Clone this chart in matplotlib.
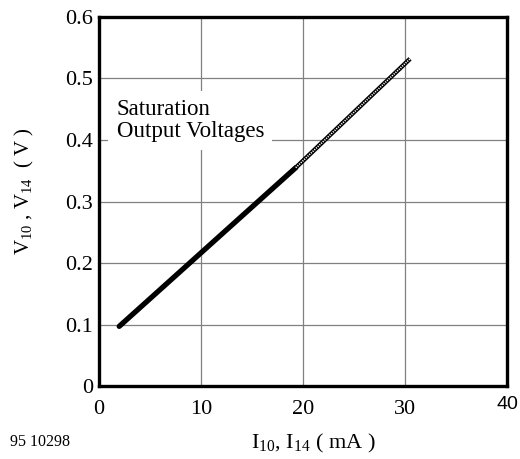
"""Saturation output voltages vs output current."""
import matplotlib.pyplot as plt
import matplotlib.transforms as mtransforms

plt.rcParams['font.family'] = ['Liberation Serif', 'DejaVu Serif']
plt.rcParams['mathtext.fontset'] = 'custom'
plt.rcParams['mathtext.rm'] = 'Liberation Serif'

# solid (measured) part and dotted (extrapolated) part
i_solid = [2.0, 19.3]
v_solid = [0.097, 0.355]
i_dotted = [19.3, 30.5]
v_dotted = [0.355, 0.532]

x_ticks = [0, 10, 20, 30, 40]
y_ticks = [0, 0.1, 0.2, 0.3, 0.4, 0.5, 0.6]
y_tick_labels = ['0', '0.1', '0.2', '0.3', '0.4', '0.5', '0.6']

fig = plt.figure(figsize=(5.2, 4.59), dpi=100)
ax = fig.add_axes([0.190, 0.159, 0.785, 0.804])

ax.plot(i_solid, v_solid, color='black', lw=3.8, solid_capstyle='round', zorder=3)
ax.plot(i_dotted, v_dotted, color='black', lw=3.2, solid_capstyle='butt', zorder=3)
ax.plot(i_dotted, v_dotted, color='white', lw=1.2, linestyle=(0, (0.7, 0.7)), zorder=4)

ax.set_xlim(0, 40)
ax.set_ylim(0, 0.6)
ax.set_xticks(x_ticks)
ax.set_yticks(y_ticks)
ax.set_yticklabels(y_tick_labels)
ax.tick_params(length=0, labelsize=16, pad=4)
ax.tick_params(axis='x', pad=10)
ax.grid(color='#808080', lw=0.9)
ax.set_axisbelow(True)
for s in ax.spines.values():
    s.set_linewidth(2.4)

# the "40" label sits a little higher in the original, in a sans face
lab40 = ax.get_xticklabels()[-1]
lab40.set_family('Liberation Sans')
lab40.set_fontsize(14)
lab40.set_transform(lab40.get_transform() +
                    mtransforms.ScaledTranslation(0, 0.04, fig.dpi_scale_trans))

ax.text(1.75, 0.432, 'Saturation\nOutput Voltages', fontsize=16.5, linespacing=1.05,
        va='center', ha='left',
        bbox=dict(facecolor='white', edgecolor='none', pad=6), zorder=2)

ax.set_xlabel(r'I$_{10}$, I$_{14}$ ( mA )', fontsize=16)
ax.xaxis.set_label_coords(0.525, -0.125)
ax.set_ylabel(r'V$_{10}$ , V$_{14}$  ( V )', fontsize=15)
ax.yaxis.set_label_coords(-0.153, 0.528)
fig.text(0.02, 0.028, '95 10298', fontsize=11.5)

plt.savefig('out.png', dpi=100)
plt.close()
